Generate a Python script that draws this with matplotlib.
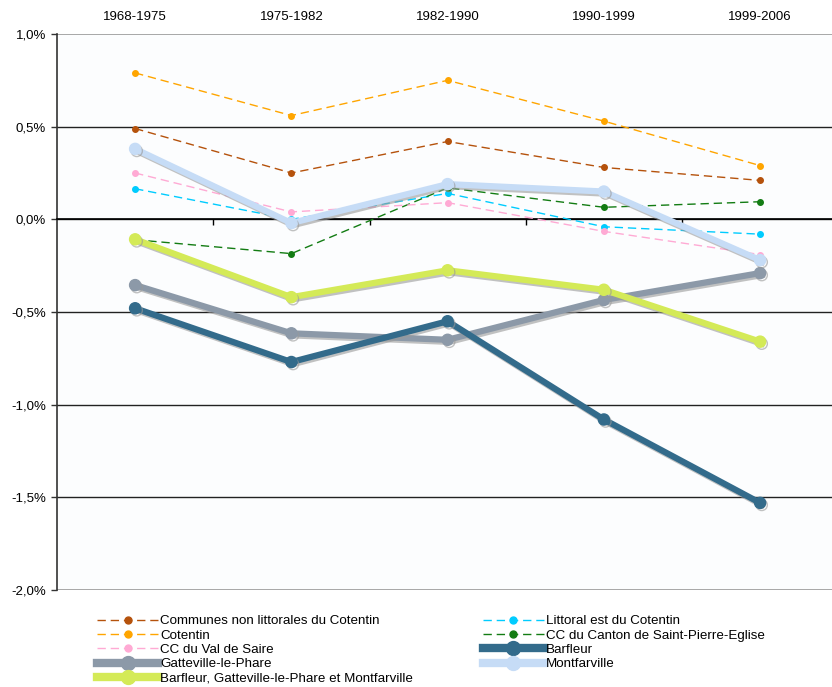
import numpy as np
import matplotlib
matplotlib.use('Agg')
import matplotlib.pyplot as plt
import matplotlib.patheffects as pe
from matplotlib.lines import Line2D

plt.rcParams['font.family'] = ['Liberation Sans', 'DejaVu Sans']

periods = ['1968-1975', '1975-1982', '1982-1990', '1990-1999', '1999-2006']

# taux de variation annuel moyen (%)
communes_non_litt = [0.49, 0.25, 0.42, 0.28, 0.21]
cotentin = [0.79, 0.56, 0.75, 0.53, 0.29]
val_de_saire = [0.25, 0.04, 0.09, -0.065, -0.19]
littoral_est = [0.165, 0.00, 0.14, -0.04, -0.08]
st_pierre_eglise = [-0.11, -0.185, 0.17, 0.065, 0.095]
barfleur = [-0.48, -0.77, -0.55, -1.08, -1.53]
gatteville = [-0.355, -0.615, -0.65, -0.435, -0.29]
bgm = [-0.108, -0.42, -0.275, -0.38, -0.66]
montfarville = [0.38, -0.02, 0.19, 0.15, -0.22]

x = np.arange(len(periods))

fig = plt.figure(figsize=(8.32, 6.87), dpi=100)
ax = fig.add_axes([57/832, 1-590/687, 1-57/832, (590-34)/687])
ax.set_facecolor('#fcfdfe')

shadow = [pe.SimpleLineShadow(offset=(1.2, -1.5), shadow_color='#999999', alpha=0.6), pe.Normal()]
dash = (0, (6, 3.5))

def dashed(vals, col, lab):
    ax.plot(x, vals, color=col, lw=1.0, ls=dash, marker='o', ms=4, zorder=3)
    return Line2D([], [], color=col, lw=1.0, ls=dash, marker='o', ms=5, label=lab)

def thick(vals, col, lab, z):
    ax.plot(x, vals, color=col, lw=4.5, marker='o', ms=8, zorder=z,
            path_effects=shadow, solid_joinstyle='round')
    return Line2D([], [], color=col, lw=6, marker='o', ms=10, label=lab)

l1 = dashed(communes_non_litt, '#b5520c', 'Communes non littorales du Cotentin')
l2 = dashed(littoral_est, '#00ccff', 'Littoral est du Cotentin')
l3 = dashed(cotentin, '#ffa500', 'Cotentin')
l4 = dashed(st_pierre_eglise, '#137c13', 'CC du Canton de Saint-Pierre-Eglise')
l5 = dashed(val_de_saire, '#ffaad4', 'CC du Val de Saire')
l7 = thick(gatteville, '#8c99a8', 'Gatteville-le-Phare', 4)
l6 = thick(barfleur, '#336b8b', 'Barfleur', 5)
l9 = thick(bgm, '#d4ea57', 'Barfleur, Gatteville-le-Phare et Montfarville', 6)
l8 = thick(montfarville, '#c6dcf6', 'Montfarville', 7)

ax.set_ylim(-2.0, 1.0)
ax.set_xlim(-0.5, 4.46)
yt = np.arange(-2.0, 1.01, 0.5)
ax.set_yticks(yt)
ax.set_yticklabels([('%.1f%%' % v).replace('.', ',') for v in yt], fontsize=9.5)
ax.tick_params(axis='y', length=4, width=1, color='#333333', pad=4)

for v in yt:
    c = '#999999' if v in (1.0, -2.0) else '#222222'
    ax.axhline(v, color=c, lw=1.2 if v in (1.0, -2.0) else 1.0, zorder=1)

for s in ['top', 'right']:
    ax.spines[s].set_visible(False)
ax.spines['left'].set_color('#333333')
ax.spines['left'].set_linewidth(1.2)
ax.spines['bottom'].set_position(('data', 0))
ax.spines['bottom'].set_color('black')
ax.spines['bottom'].set_linewidth(1.2)
ax.set_xticks(x[:-1] + 0.5)
ax.set_xticklabels([])
ax.tick_params(axis='x', length=4, width=1, direction='out', color='black')

top = ax.secondary_xaxis('top')
top.set_xticks(x)
top.set_xticklabels(periods, fontsize=9.5)
top.tick_params(length=0, pad=8)
top.spines['top'].set_visible(False)

handles = [l1, l3, l5, l7, l9, l2, l4, l6, l8]
fig.legend(handles=handles, ncol=2,
           loc='upper left', bbox_to_anchor=(97/832, 1-615/687), frameon=False,
           fontsize=9.6, handlelength=4.6, handletextpad=0.15, labelspacing=0.15,
           columnspacing=5.2, borderaxespad=0, borderpad=0)

fig.savefig('out.png', dpi=100)
